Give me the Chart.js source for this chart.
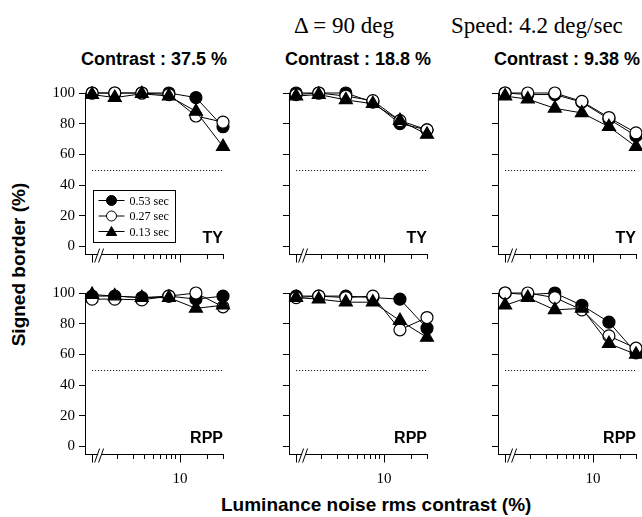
<!DOCTYPE html>
<html>
<head>
<meta charset="utf-8">
<script src="https://cdn.jsdelivr.net/npm/chart.js@4.4.1/dist/chart.umd.min.js"></script>
<style>
    html, body { margin: 0; padding: 0; background: #fff; }
    #figure { position: relative; width: 642px; height: 517px; overflow: hidden; background: #fff; }
    #figure canvas { position: absolute; }
    .txt { position: absolute; white-space: nowrap; color: #000; }
    .serif { font-family: "Liberation Serif", "DejaVu Serif", serif; }
    .sans { font-family: "Liberation Sans", Arial, sans-serif; font-weight: bold; }
    .panel-title { width: 220px; text-align: center; font-size: 18px; line-height: 18px; }
</style>
</head>
<body>
<div id="figure">
    <div class="txt serif" style="left:294px; top:14px; font-size:23px; line-height:23px;">&Delta; = 90 deg</div>
    <div class="txt serif" style="left:451px; top:14px; font-size:23px; line-height:23px;">Speed: 4.2 deg/sec</div>
    <div class="txt sans" id="yTitle" style="left:-132px; top:255px; width:300px; text-align:center; font-size:19px; line-height:19px; transform:rotate(-90deg);">Signed border (%)</div>
    <div class="txt sans" style="left:221px; top:495px; width:300px; text-align:center; font-size:19px; line-height:19px;">Luminance noise rms contrast (%)</div>
</div>

<script>
// no-noise condition sits left of the axis break
const ZERO_POS = 1.05;
const noiseLevels = [ZERO_POS, 1.875, 3.75, 7.5, 15, 30];
const xTickValues = [ZERO_POS, 2, 3, 4, 5, 6, 7, 8, 9, 10, 20, 30];
const xLabelled = [10];
const yTickValues = [0, 20, 40, 60, 80, 100];
const CHANCE = 50;

const durations = ['0.53 sec', '0.27 sec', '0.13 sec'];
const contrasts = ['37.5', '18.8', '9.38'];

// subject TY
const ty375_053 = [100, 100, 100, 100, 97, 78];
const ty375_027 = [100, 100, 100, 99, 85, 81];
const ty375_013 = [99, 97, 99.5, 98, 88, 65];

const ty188_053 = [100, 100, 100, 94, 80, 76];
const ty188_027 = [99, 100, 98, 95, 82, 76];
const ty188_013 = [98, 99, 95.5, 93, 82, 73];

const ty938_053 = [100, 99, 99, 94, 83, 72];
const ty938_027 = [100, 100, 100, 94.5, 84, 74];
const ty938_013 = [98, 96, 90, 87, 78, 65];

// subject RPP
const rpp375_053 = [98, 98, 97, 98, 96, 98];
const rpp375_027 = [96, 96, 95.5, 98, 100, 91];
const rpp375_013 = [99, 98, 97, 97, 90, 92];

const rpp188_053 = [98, 98, 98, 97, 96, 77];
const rpp188_027 = [97, 98, 97, 98, 76, 84];
const rpp188_013 = [97, 96, 94, 94, 82, 71];

const rpp938_053 = [100, 99, 100, 92, 81, 61];
const rpp938_027 = [100, 100, 97, 89, 72, 64];
const rpp938_013 = [92, 97, 89, 90, 67, 60];

const panels = [
    { row: 0, col: 0, subject: 'TY', series: [ty375_053, ty375_027, ty375_013], legend: true },
    { row: 0, col: 1, subject: 'TY', series: [ty188_053, ty188_027, ty188_013] },
    { row: 0, col: 2, subject: 'TY', series: [ty938_053, ty938_027, ty938_013] },
    { row: 1, col: 0, subject: 'RPP', series: [rpp375_053, rpp375_027, rpp375_013] },
    { row: 1, col: 1, subject: 'RPP', series: [rpp188_053, rpp188_027, rpp188_013] },
    { row: 1, col: 2, subject: 'RPP', series: [rpp938_053, rpp938_027, rpp938_013] },
];

// marker look per duration (filled circle, open circle, filled triangle)
const seriesStyle = [
    { pointStyle: 'circle', bg: '#000', radius: 6, order: 3 },
    { pointStyle: 'circle', bg: '#fff', radius: 6, order: 2 },
    { pointStyle: 'triangle', bg: '#000', radius: 7.5, order: 1 },
];

// layout of the plot areas
const colLeft = [85, 289, 498];
const rowTop = [93, 293];
const PLOT_W = 138;
const PLOT_H = 161;
const PAD_L = 60, PAD_T = 20, PAD_R = 16, PAD_B = 35;

const SERIF = '"Liberation Serif", "DejaVu Serif", serif';
const SANS = '"Liberation Sans", Arial, sans-serif';

/**
 * chance line, axis break, longer ticks, subject tag and legend
 */
const panelDeco = {
    id: 'panelDeco',
    beforeDatasetsDraw(chart, args, opts) {
        const { ctx, scales: { x, y } } = chart;
        const yy = Math.round(y.getPixelForValue(CHANCE)) + 0.5;
        ctx.save();
        ctx.strokeStyle = '#000';
        ctx.lineWidth = 1;
        ctx.setLineDash([1, 2]);
        ctx.beginPath();
        ctx.moveTo(x.getPixelForValue(ZERO_POS), yy);
        ctx.lineTo(x.getPixelForValue(30), yy);
        ctx.stroke();
        ctx.restore();
    },
    afterDraw(chart, args, opts) {
        const { ctx, chartArea, scales: { x } } = chart;
        const axisY = Math.round(chartArea.bottom) + 0.5;

        ctx.save();
        ctx.strokeStyle = '#000';
        ctx.lineWidth = 1;

        // longer ticks for the zero condition and the decade
        [ZERO_POS, 10].forEach((v) => {
            const px = Math.round(x.getPixelForValue(v)) + 0.5;
            ctx.beginPath();
            ctx.moveTo(px, axisY);
            ctx.lineTo(px, axisY + 8);
            ctx.stroke();
        });

        // axis break
        const bx = x.getPixelForValue(ZERO_POS) + 7;
        ctx.fillStyle = '#fff';
        ctx.fillRect(bx - 1, axisY - 1.5, 3, 3);
        [-2, 2].forEach((dx) => {
            ctx.beginPath();
            ctx.moveTo(bx + dx - 2.5, axisY + 8);
            ctx.lineTo(bx + dx + 2.5, axisY - 6);
            ctx.stroke();
        });

        // subject tag
        ctx.fillStyle = '#000';
        ctx.font = 'bold 16px ' + SANS;
        ctx.textAlign = 'right';
        ctx.textBaseline = 'alphabetic';
        ctx.fillText(opts.subject, chartArea.right, chartArea.bottom - 11);

        if (opts.legend) drawLegend(chart);
        ctx.restore();
    },
};

function drawMarker(ctx, style, cx, cy, r) {
    ctx.beginPath();
    if (style.pointStyle === 'triangle') {
        ctx.moveTo(cx, cy - r);
        ctx.lineTo(cx + r * 0.866, cy + r * 0.5);
        ctx.lineTo(cx - r * 0.866, cy + r * 0.5);
        ctx.closePath();
    } else {
        ctx.arc(cx, cy, r, 0, Math.PI * 2);
    }
    ctx.fillStyle = style.bg;
    ctx.fill();
    ctx.stroke();
}

function drawLegend(chart) {
    const { ctx, chartArea } = chart;
    const left = Math.round(chartArea.left) + 8.5;
    const top = Math.round(chartArea.top) + 97.5;

    ctx.save();
    ctx.strokeStyle = '#000';
    ctx.lineWidth = 1;
    ctx.fillStyle = '#fff';
    ctx.fillRect(left, top, 82, 52);
    ctx.strokeRect(left, top, 82, 52);

    durations.forEach((label, i) => {
        const cy = top + 10 + i * 15.5;
        ctx.beginPath();
        ctx.moveTo(left + 5, cy);
        ctx.lineTo(left + 31, cy);
        ctx.stroke();
        const st = seriesStyle[i];
        const tri = st.pointStyle === 'triangle';
        drawMarker(ctx, st, left + 18, cy + (tri ? 1 : 0), tri ? 6 : 5);
        ctx.fillStyle = '#000';
        ctx.font = '12px ' + SERIF;
        ctx.textAlign = 'left';
        ctx.textBaseline = 'middle';
        ctx.fillText(label, left + 36, cy + 1);
    });
    ctx.restore();
}

function buildPanel(panel) {
    const fig = document.getElementById('figure');
    const canvas = document.createElement('canvas');
    const w = PAD_L + PLOT_W + PAD_R;
    const h = PAD_T + PLOT_H + PAD_B;
    canvas.width = w;
    canvas.height = h;
    canvas.style.width = w + 'px';
    canvas.style.height = h + 'px';
    canvas.style.left = (colLeft[panel.col] - PAD_L) + 'px';
    canvas.style.top = (rowTop[panel.row] - PAD_T) + 'px';
    fig.appendChild(canvas);

    const datasets = panel.series.map((values, i) => {
        const st = seriesStyle[i];
        return {
            label: durations[i],
            data: noiseLevels.map((nx, k) => ({ x: nx, y: values[k] })),
            borderColor: '#000',
            borderWidth: 1,
            pointStyle: st.pointStyle,
            pointRadius: st.radius,
            pointBackgroundColor: st.bg,
            pointBorderColor: '#000',
            pointBorderWidth: 1.2,
            order: st.order,
            clip: false,
            tension: 0,
        };
    });

    const isBottom = panel.row === 1;
    const isLeft = panel.col === 0;

    new Chart(canvas, {
        type: 'line',
        data: { datasets },
        options: {
            responsive: false,
            animation: false,
            devicePixelRatio: 1,
            events: [],
            layout: { padding: { left: 0, top: PAD_T, right: PAD_R, bottom: 0 } },
            plugins: {
                legend: { display: false },
                tooltip: { enabled: false },
                panelDeco: { subject: panel.subject, legend: !!panel.legend },
            },
            scales: {
                x: {
                    type: 'logarithmic',
                    min: 0.875,
                    max: 30,
                    afterBuildTicks: (axis) => {
                        axis.ticks = xTickValues.map((v) => ({ value: v }));
                    },
                    afterFit: (axis) => { axis.height = PAD_B; },
                    ticks: {
                        autoSkip: false,
                        maxRotation: 0,
                        padding: 11,
                        color: '#000',
                        font: { family: SERIF, size: 15 },
                        callback: (v) => (isBottom && xLabelled.includes(v) ? String(v) : ''),
                    },
                    grid: { display: true, drawOnChartArea: false, tickLength: 5, color: '#000', lineWidth: 1 },
                    border: { display: true, color: '#000', width: 1 },
                },
                y: {
                    type: 'linear',
                    min: -5,
                    max: 100,
                    afterBuildTicks: (axis) => {
                        axis.ticks = yTickValues.map((v) => ({ value: v }));
                    },
                    afterFit: (axis) => { axis.width = PAD_L; },
                    ticks: {
                        padding: 4,
                        color: '#000',
                        font: { family: SERIF, size: 15 },
                        callback: (v) => (isLeft ? String(v) : ''),
                    },
                    grid: { display: true, drawOnChartArea: false, tickLength: 6, color: '#000', lineWidth: 1 },
                    border: { display: true, color: '#000', width: 1 },
                },
            },
        },
        plugins: [panelDeco],
    });
}

function addTitles() {
    const fig = document.getElementById('figure');
    contrasts.forEach((c, i) => {
        const div = document.createElement('div');
        div.className = 'txt sans panel-title';
        div.textContent = 'Contrast : ' + c + ' %';
        div.style.left = (colLeft[i] + PLOT_W / 2 - 110) + 'px';
        div.style.top = '50px';
        fig.appendChild(div);
    });
}

document.addEventListener('DOMContentLoaded', () => {
    addTitles();
    panels.forEach(buildPanel);
});
</script>
</body>
</html>
